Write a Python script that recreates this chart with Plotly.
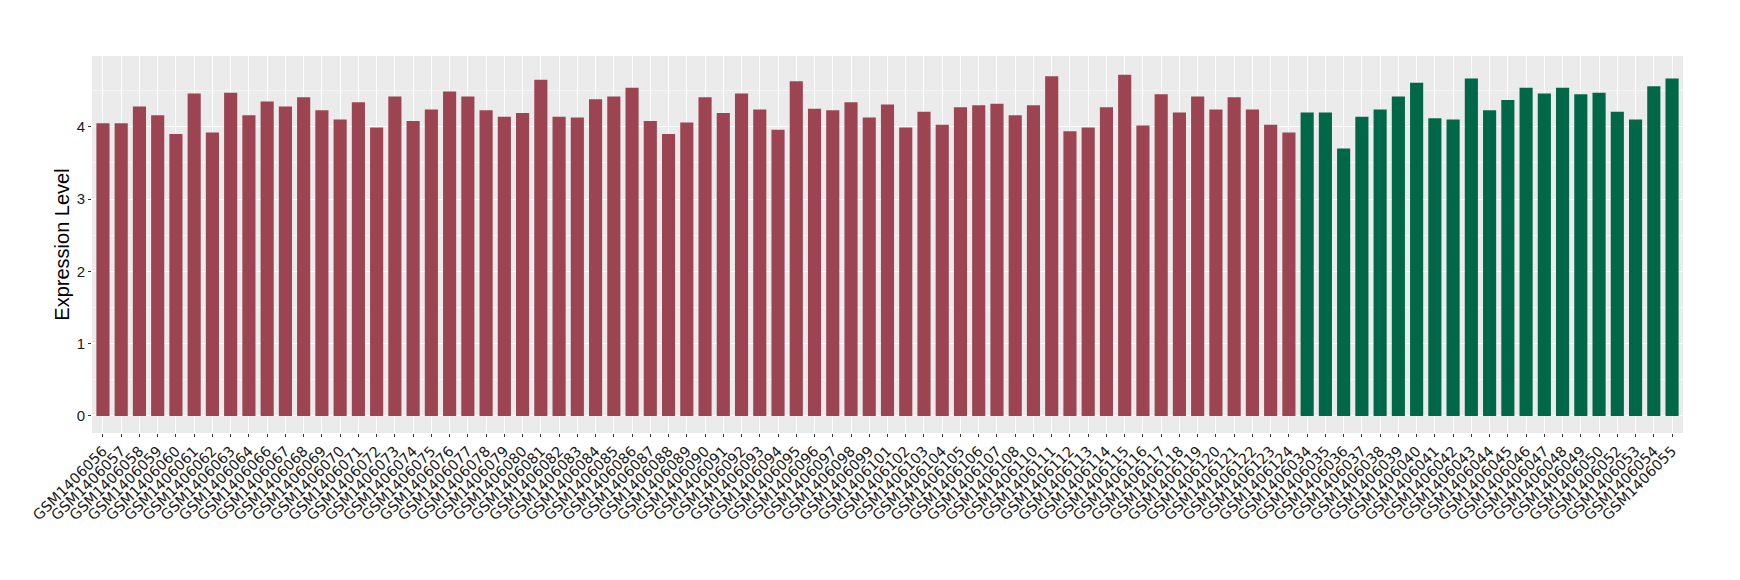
import plotly.graph_objects as go

samples = [
    "GSM1406056", "GSM1406057", "GSM1406058", "GSM1406059", "GSM1406060", "GSM1406061",
    "GSM1406062", "GSM1406063", "GSM1406064", "GSM1406066", "GSM1406067", "GSM1406068",
    "GSM1406069", "GSM1406070", "GSM1406071", "GSM1406072", "GSM1406073", "GSM1406074",
    "GSM1406075", "GSM1406076", "GSM1406077", "GSM1406078", "GSM1406079", "GSM1406080",
    "GSM1406081", "GSM1406082", "GSM1406083", "GSM1406084", "GSM1406085", "GSM1406086",
    "GSM1406087", "GSM1406088", "GSM1406089", "GSM1406090", "GSM1406091", "GSM1406092",
    "GSM1406093", "GSM1406094", "GSM1406095", "GSM1406096", "GSM1406097", "GSM1406098",
    "GSM1406099", "GSM1406101", "GSM1406102", "GSM1406103", "GSM1406104", "GSM1406105",
    "GSM1406106", "GSM1406107", "GSM1406108", "GSM1406110", "GSM1406111", "GSM1406112",
    "GSM1406113", "GSM1406114", "GSM1406115", "GSM1406116", "GSM1406117", "GSM1406118",
    "GSM1406119", "GSM1406120", "GSM1406121", "GSM1406122", "GSM1406123", "GSM1406124",
    "GSM1406034", "GSM1406035", "GSM1406036", "GSM1406037", "GSM1406038", "GSM1406039",
    "GSM1406040", "GSM1406041", "GSM1406042", "GSM1406043", "GSM1406044", "GSM1406045",
    "GSM1406046", "GSM1406047", "GSM1406048", "GSM1406049", "GSM1406050", "GSM1406052",
    "GSM1406053", "GSM1406054", "GSM1406055",
]

values = [
    4.05, 4.05, 4.28, 4.16, 3.90, 4.46,
    3.92, 4.47, 4.16, 4.35, 4.28, 4.41,
    4.23, 4.10, 4.34, 3.99, 4.42, 4.08,
    4.24, 4.49, 4.42, 4.23, 4.14, 4.19,
    4.65, 4.14, 4.13, 4.38, 4.42, 4.54,
    4.08, 3.90, 4.06, 4.41, 4.19, 4.46,
    4.24, 3.96, 4.63, 4.25, 4.23, 4.34,
    4.13, 4.31, 3.99, 4.21, 4.03, 4.27,
    4.30, 4.32, 4.16, 4.30, 4.70, 3.94,
    3.99, 4.27, 4.72, 4.02, 4.45, 4.20,
    4.42, 4.24, 4.41, 4.24, 4.03, 3.92,
    4.20, 4.20, 3.70, 4.14, 4.24, 4.42,
    4.61, 4.12, 4.10, 4.67, 4.23, 4.37,
    4.54, 4.46, 4.54, 4.45, 4.47, 4.21,
    4.10, 4.56, 4.67,
]

groups = ["A"] * 66 + ["B"] * 21
group_colors = {"A": "#9C4452", "B": "#006846"}

fig = go.Figure(
    go.Bar(
        x=samples,
        y=values,
        marker=dict(color=[group_colors[g] for g in groups], line=dict(width=0)),
        width=0.72,
        showlegend=False,
    )
)

# page body has an 8px default margin, so the figure is sized to fit inside it
fig.update_layout(
    width=1732,
    height=572,
    paper_bgcolor="white",
    plot_bgcolor="#EBEBEB",
    margin=dict(l=84, r=57, t=48, b=147),
    font=dict(family="Liberation Sans, Arial, sans-serif", color="#1a1a1a"),
)

fig.update_xaxes(
    type="category",
    range=[-0.6, len(samples) - 0.4],
    tickangle=-45,
    tickfont=dict(family="DejaVu Sans", size=14.5, color="#1a1a1a"),
    showgrid=True,
    gridcolor="white",
    gridwidth=1.1,
    ticks="outside",
    ticklen=3,
    tickcolor="#333333",
    zeroline=False,
    showline=False,
    automargin=False,
)

fig.update_yaxes(
    range=[-0.236, 4.98],
    tickvals=[0, 1, 2, 3, 4],
    tickfont=dict(family="Liberation Sans", size=15, color="#1a1a1a"),
    showgrid=True,
    gridcolor="white",
    gridwidth=1.1,
    minor=dict(tickvals=[0.5, 1.5, 2.5, 3.5, 4.5], showgrid=True, gridcolor="#F5F5F5", gridwidth=0.6),
    ticks="outside",
    ticklen=3,
    tickcolor="#333333",
    zeroline=False,
    showline=False,
    title=dict(text="Expression Level", font=dict(family="Liberation Sans", size=20, color="black"), standoff=1),
    automargin=False,
)

fig.write_html("out.html")
